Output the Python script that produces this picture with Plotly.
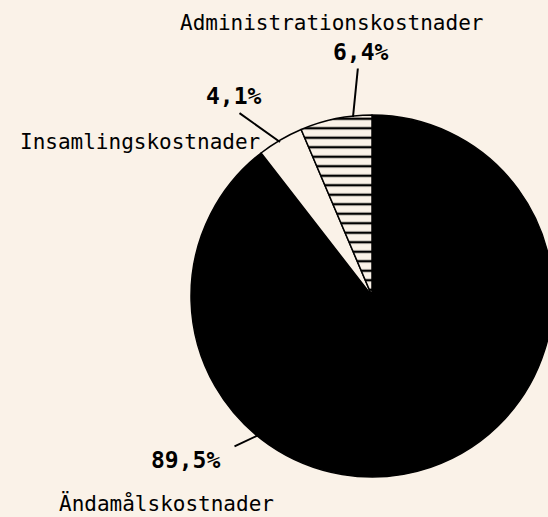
import plotly.graph_objects as go

# Data
categories = ['Ändamålskostnader', 'Insamlingskostnader', 'Administrationskostnader']
shares = [89.5, 4.1, 6.4]
share_labels = ['89,5%', '4,1%', '6,4%']

BG = '#faf2e8'
INK = '#000000'
FONT = 'DejaVu Sans Mono'
W = 560   # a bit wider than the window, the pie runs off the right edge
H = 517


def px(x, y):
    # pixel position -> paper coords (margins are zero)
    return x / W, 1 - y / H


def main():
    fig = go.Figure()

    # pie centre (372, 296), radius 181 px
    cx, cy, r = 372, 296, 181
    fig.add_trace(go.Pie(
        labels=categories,
        values=shares,
        sort=False,
        direction='clockwise',
        rotation=0,
        textinfo='none',
        hoverinfo='label+percent',
        showlegend=False,
        domain=dict(x=[(cx - r) / W, (cx + r) / W],
                    y=[1 - (cy + r) / H, 1 - (cy - r) / H]),
        marker=dict(
            colors=[INK, BG, BG],
            line=dict(color=INK, width=1.5),
            pattern=dict(shape=['', '', '-'], fgcolor=INK, size=9.5, solidity=0.25),
        ),
    ))

    # category names and percentages
    name_pos = [(166, 503), (140, 142), (331, 23)]
    share_pos = [(185, 460), (234, 96), (361, 52)]
    for name, (x, y) in zip(categories, name_pos):
        xp, yp = px(x, y)
        fig.add_annotation(x=xp, y=yp, xref='paper', yref='paper', text=name,
                           xanchor='center', yanchor='middle', showarrow=False,
                           font=dict(family=FONT, size=21, color=INK))
    for lab, (x, y) in zip(share_labels, share_pos):
        xp, yp = px(x, y)
        fig.add_annotation(x=xp, y=yp, xref='paper', yref='paper', text='<b>' + lab + '</b>',
                           xanchor='center', yanchor='middle', showarrow=False,
                           font=dict(family=FONT, size=23, color=INK))

    # leader lines: (tail, head)
    leaders = [((233, 447), (280, 425)), ((238, 112), (280, 142)), ((358, 67), (353, 117))]
    for (x0, y0), (x1, y1) in leaders:
        xp, yp = px(x1, y1)
        fig.add_annotation(x=xp, y=yp, xref='paper', yref='paper', text='',
                           showarrow=True, arrowhead=0, arrowwidth=2, arrowcolor=INK,
                           ax=x0 - x1, ay=y0 - y1, standoff=0, startstandoff=0)

    fig.update_layout(
        width=W, height=H,
        margin=dict(l=0, r=0, t=0, b=0),
        paper_bgcolor=BG,
        plot_bgcolor=BG,
        font=dict(family=FONT, color=INK),
    )

    fig.write_html('out.html', config={'displayModeBar': False},
                   post_script="document.body.style.margin='0';document.body.style.overflow='hidden';")


if __name__ == '__main__':
    main()
